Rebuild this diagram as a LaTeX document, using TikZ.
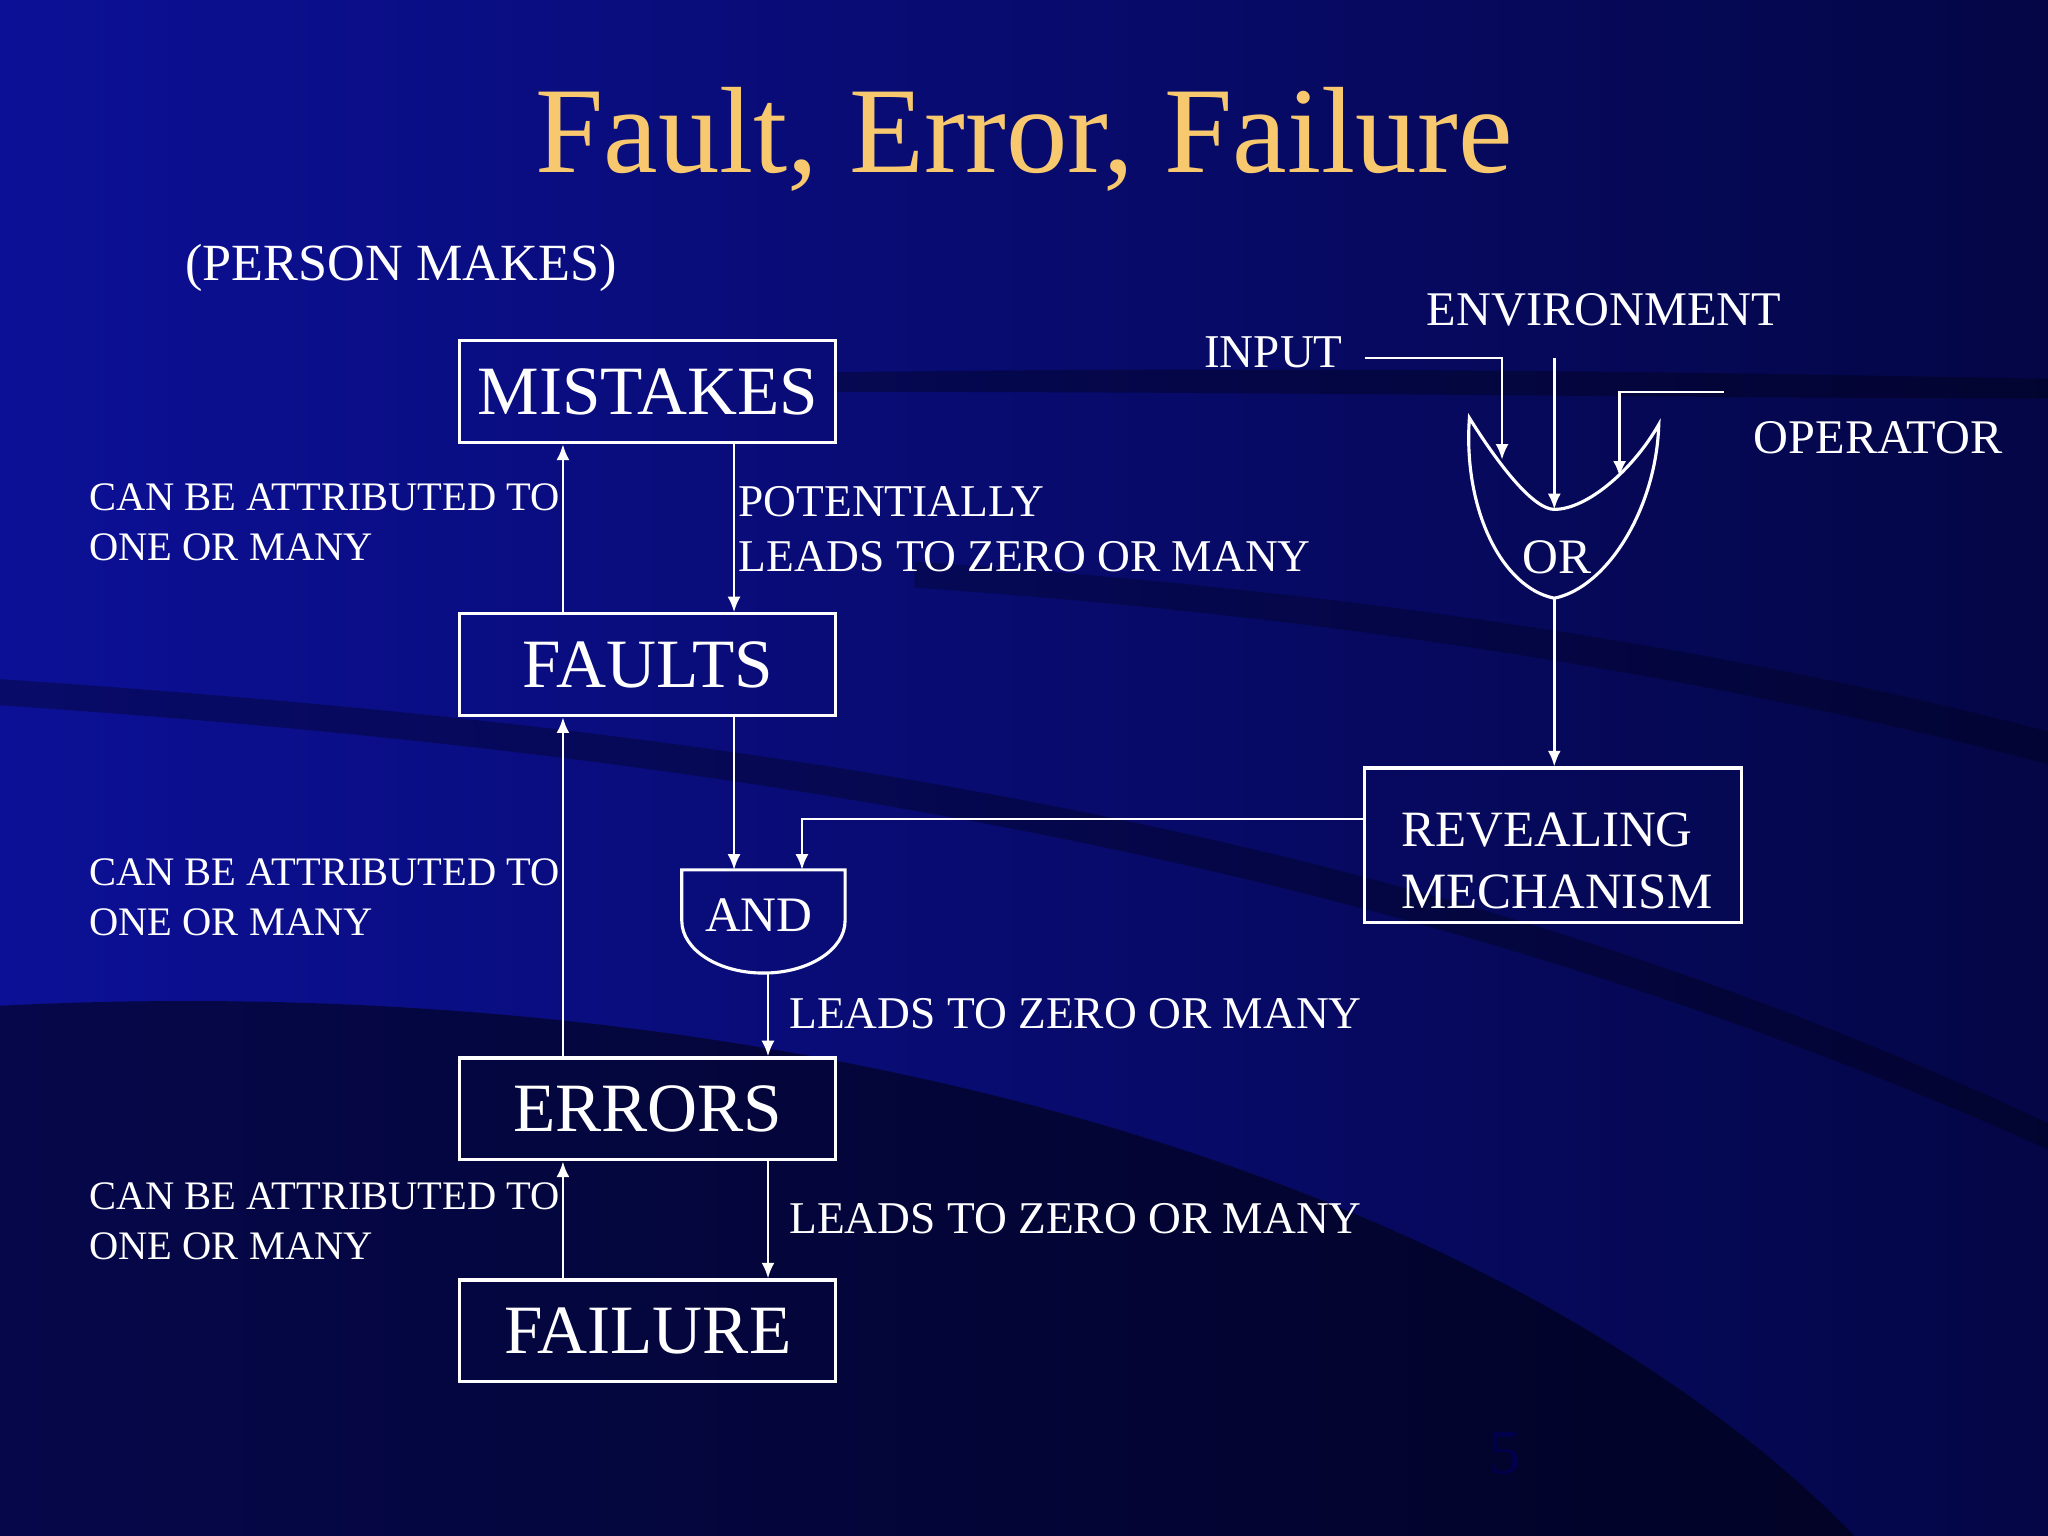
\documentclass[tikz,border=0pt]{standalone}
\usepackage{fontspec}
\setmainfont{Liberation Serif}
\usetikzlibrary{arrows.meta}
\definecolor{bgA}{RGB}{12,16,150}
\definecolor{bgB}{RGB}{4,6,70}
\definecolor{titlec}{RGB}{248,200,110}
\tikzset{
 box/.style={draw=white,line width=1.2pt,minimum width=144pt,minimum height=39pt,text=white,font=\fontsize{26.5}{30}\selectfont,inner sep=0pt},
 lbl/.style={text=white,font=\fontsize{15.5}{19}\selectfont,align=left,anchor=west,inner sep=0pt},
 wire/.style={draw=white,line width=1pt},
 arr/.style={wire,-{Latex[length=6pt,width=5pt]}},
}
\begin{document}
\begin{tikzpicture}[x=0.5pt,y=-0.5pt]
\useasboundingbox (0,0) rectangle (1568,1176);
\shade[left color=bgA,right color=bgB] (0,0) rectangle (1568,1176);
\fill[black,opacity=0.5] (0,770) .. controls (600,740) and (1150,900) .. (1420,1176) -- (0,1176) -- cycle;
\fill[black,opacity=0.3] (640,285) .. controls (1000,280) and (1300,285) .. (1568,290) -- (1568,305) .. controls (1300,305) and (1000,300) .. (640,300) -- cycle;
\fill[black,opacity=0.3] (0,520) .. controls (600,560) and (1100,640) .. (1568,860) -- (1568,880) .. controls (1100,670) and (600,580) .. (0,540) -- cycle;
\fill[black,opacity=0.25] (700,430) .. controls (1000,450) and (1300,490) .. (1568,560) -- (1568,585) .. controls (1300,515) and (1000,470) .. (700,450) -- cycle;

\node[text=titlec,font=\fontsize{47}{52}\selectfont] (title) at (784,107) {Fault, Error, Failure};
\node[text=white,font=\fontsize{20}{24}\selectfont] (pm) at (307,205) {(PERSON MAKES)};

\node[box] (mis) at (496,300) {MISTAKES};
\node[box] (fau) at (496,509) {FAULTS};
\node[box] (err) at (496,849) {ERRORS};
\node[box] (fail) at (496,1019) {FAILURE};
\node[draw=white,line width=1.2pt,minimum width=144pt,minimum height=59pt,text=white,font=\fontsize{19.5}{24}\selectfont,align=left,inner sep=0pt] (rev) at (1189,647) {};
\node[text=white,font=\fontsize{19.5}{24}\selectfont,align=left] (revt) at (1192,659) {REVEALING\\MECHANISM};

% AND gate
\draw[wire,line width=1.2pt] (522,666) -- (647,666) -- (647,705) arc[start angle=0,end angle=180,x radius=62.5,y radius=40] -- cycle;
\node[text=white,font=\fontsize{19}{23}\selectfont] (and) at (581,701) {AND};
\coordinate (andtop) at (562,666);
\coordinate (andtop2) at (614,666);
\coordinate (andbot) at (588,745);
% OR gate
\draw[wire,line width=1.2pt] (1125,320) .. controls (1150,360) and (1175,390) .. (1190,390) .. controls (1215,390) and (1250,360) .. (1270,325)
 .. controls (1268,390) and (1230,450) .. (1190,458) .. controls (1150,450) and (1120,390) .. (1125,320) -- cycle;
\node[text=white,font=\fontsize{19}{23}\selectfont] (or) at (1192,427) {OR};
\coordinate (ortop) at (1190,390);
\coordinate (orbot) at (1190,458);

% arrows
\draw[arr] (fau.north -| 431,0) -- (mis.south -| 431,0);
\draw[arr] (mis.south -| 562,0) -- (fau.north -| 562,0);
\draw[arr] (fau.south -| 562,0) -- (andtop);
\draw[arr] (andbot) -- (err.north -| 588,0);
\draw[arr] (err.north -| 431,0) -- (fau.south -| 431,0);
\draw[arr] (err.south -| 588,0) -- (fail.north -| 588,0);
\draw[arr] (fail.north -| 431,0) -- (err.south -| 431,0);
\draw[arr] (rev.west |- 0,627) -- (614,627) -- (andtop2);
\draw[arr] (orbot) -- (rev.north -| orbot);

\node[text=white,font=\fontsize{18}{22}\selectfont] (inp) at (975,270) {INPUT};
\node[text=white,font=\fontsize{18.5}{22}\selectfont] (env) at (1228,237) {ENVIRONMENT};
\node[text=white,font=\fontsize{18.5}{22}\selectfont] (op) at (1438,335) {OPERATOR};
\coordinate (inpend) at (1150,352);
\coordinate (opend) at (1240,365);
\draw[arr] (1045,274) -- (1150,274) -- (inpend);
\draw[arr] (1190,274) -- (ortop);
\draw[arr] (1320,300) -- (1240,300) -- (opend);

\node[lbl] (l1) at (68,400) {CAN BE ATTRIBUTED TO\\ONE OR MANY};
\node[lbl] (l2) at (68,687) {CAN BE ATTRIBUTED TO\\ONE OR MANY};
\node[lbl] (l3) at (68,935) {CAN BE ATTRIBUTED TO\\ONE OR MANY};
\node[lbl,font=\fontsize{17.4}{21}\selectfont] (r1) at (565,405) {POTENTIALLY\\LEADS TO ZERO OR MANY};
\node[lbl,font=\fontsize{17.4}{21}\selectfont] (r2) at (604,776) {LEADS TO ZERO OR MANY};
\node[lbl,font=\fontsize{17.4}{21}\selectfont] (r3) at (604,933) {LEADS TO ZERO OR MANY};
\node[text=black!70!blue,font=\fontsize{24}{28}\selectfont] (pg) at (1152,1113) {5};
\end{tikzpicture}
\end{document}
